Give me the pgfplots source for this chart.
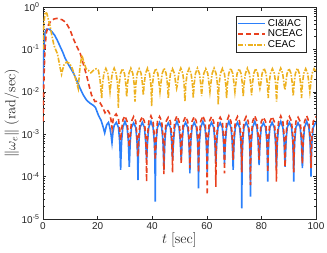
\documentclass[border=0pt]{standalone}
\usepackage[no-math]{fontspec}
\setmainfont{Liberation Sans}
\usepackage{pgfplots}
\pgfplotsset{compat=1.18}
\definecolor{axgray}{rgb}{0.15,0.15,0.15}
\definecolor{cblue}{HTML}{2B7FFA}
\definecolor{cred}{HTML}{E8401E}
\definecolor{cyel}{HTML}{EDB120}
\begin{document}
\begin{tikzpicture}
\path[use as bounding box] (-43bp,-34bp) rectangle (284bp,219bp);
\begin{axis}[
  at={(0,0)}, anchor=south west,
  scale only axis, width=273bp, height=212bp,
  xmin=0, xmax=100, ymin=1e-5, ymax=1, ymode=log,
  axis line style={draw=axgray, line width=0.5pt},
  major tick length=3.5bp, minor tick length=2bp,
  tick style={axgray, line width=0.5pt},
  tick align=inside,
  xtick={0,20,40,60,80,100},
  ytick={1e-5,1e-4,1e-3,1e-2,1e-1,1},
  yticklabels={10\textsuperscript{-5},10\textsuperscript{-4},10\textsuperscript{-3},10\textsuperscript{-2},10\textsuperscript{-1},10\textsuperscript{0}},
  minor ytick={2e-5,3e-5,4e-5,5e-5,6e-5,7e-5,8e-5,9e-5,
               2e-4,3e-4,4e-4,5e-4,6e-4,7e-4,8e-4,9e-4,
               2e-3,3e-3,4e-3,5e-3,6e-3,7e-3,8e-3,9e-3,
               2e-2,3e-2,4e-2,5e-2,6e-2,7e-2,8e-2,9e-2,
               2e-1,3e-1,4e-1,5e-1,6e-1,7e-1,8e-1,9e-1},
  /pgf/number format/assume math mode=true,
  ticklabel style={font=\fontsize{10}{12}\selectfont, text=axgray},
  xlabel={$t\ \mathrm{[sec]}$},
  ylabel={$\|\omega_e\|\ \mathrm{(rad/sec)}$},
  label style={font=\fontsize{14}{16}\selectfont, text=axgray},
  xlabel style={yshift=4bp},
  ylabel style={yshift=-4bp},
  legend style={at={(0.963,0.958)}, anchor=north east, draw=axgray,
     fill=white, font=\fontsize{10}{12}\selectfont, inner xsep=1bp, inner ysep=1bp,
     row sep=-1.5bp},
  legend cell align=left,
  legend image code/.code={\draw[#1] (0bp,0bp) -- (27bp,0bp); \draw[#1] (0bp,0bp) -- (27bp,0bp);},
  clip=true,
]
\addlegendimage{draw=cblue, line width=1.6pt, solid}
\addlegendentry{CI\&IAC}
\addlegendimage{draw=cred, line width=1.6pt, dash pattern=on 5bp off 3bp}
\addlegendentry{NCEAC}
\addlegendimage{draw=cyel, line width=1.6pt, dash pattern=on 5bp off 1.5bp on 1.5bp off 1.5bp}
\addlegendentry{CEAC}
\addplot[forget plot, color=cblue, line width=1.6pt] coordinates {
(0,0.0126) (0.3,0.1) (0.7,0.25) (1.3,0.30) (2.3,0.30) (3.3,0.26) (4.3,0.214) (5.2,0.166)
(6.2,0.12) (7.2,0.087) (8.1,0.062) (9.5,0.042) (11.1,0.028) (12.3,0.019) (13.6,0.012)
(14.8,0.0083) (16.0,0.0063) (17.2,0.0054) (18.4,0.0048) (19.2,0.0043) (20.3,0.0028)
(21.3,0.0021) (22.0,0.0015) (22.6,0.00107) (23.3,0.00166) (24.0,0.0019) (24.5,0.00141)
(24.9,0.0010) (25.27,0.00063) (25.62,0.0011) (26.07,0.0016) (26.85,0.0019)
(27.64,1.45e-3) (28.09,6.8e-4) (28.32,2.7e-4) (28.44,1.45e-4) (28.56,2.7e-4) (28.79,6.8e-4) (29.24,1.45e-3) (30.03,2.0e-3)
(30.81,1.45e-3) (31.26,6.8e-4) (31.49,2.7e-4) (31.61,1.7e-4) (31.73,2.7e-4) (31.96,6.8e-4) (32.41,1.45e-3) (33.20,1.85e-3)
(33.98,1.45e-3) (34.43,6.8e-4) (34.66,2.7e-4) (34.78,8.3e-5) (34.90,2.7e-4) (35.13,6.8e-4) (35.58,1.45e-3) (36.37,1.9e-3)
(37.15,1.45e-3) (37.60,6.8e-4) (37.95,2.5e-4) (38.30,6.8e-4) (38.75,1.45e-3) (39.54,2.0e-3)
(40.32,1.45e-3) (40.77,6.8e-4) (41.00,2.7e-4) (41.12,2.57e-5) (41.24,2.7e-4) (41.47,6.8e-4) (41.92,1.45e-3) (42.71,1.9e-3)
(43.49,1.45e-3) (43.94,6.8e-4) (44.17,2.7e-4) (44.29,1.45e-4) (44.41,2.7e-4) (44.64,6.8e-4) (45.09,1.45e-3) (45.88,1.85e-3)
(46.66,1.45e-3) (47.11,6.8e-4) (47.46,2.5e-4) (47.81,6.8e-4) (48.26,1.45e-3) (49.05,2.0e-3)
(49.83,1.45e-3) (50.28,6.8e-4) (50.63,2.45e-4) (50.98,6.8e-4) (51.43,1.45e-3) (52.22,1.9e-3)
(53.00,1.45e-3) (53.45,6.8e-4) (53.68,2.7e-4) (53.80,1.2e-4) (53.92,2.7e-4) (54.15,6.8e-4) (54.60,1.45e-3) (55.39,1.9e-3)
(56.17,1.45e-3) (56.62,6.8e-4) (56.85,2.7e-4) (56.97,5.25e-5) (57.09,2.7e-4) (57.32,6.8e-4) (57.77,1.45e-3) (58.56,2.0e-3)
(59.34,1.45e-3) (59.79,6.8e-4) (60.02,2.7e-4) (60.14,1.26e-4) (60.26,2.7e-4) (60.49,6.8e-4) (60.94,1.45e-3) (61.73,1.9e-3)
(62.51,1.45e-3) (62.96,6.8e-4) (63.19,3.2e-4) (63.31,2.0e-4) (63.43,3.2e-4) (63.66,6.8e-4) (64.11,1.45e-3) (64.90,1.85e-3)
(65.68,1.45e-3) (66.13,6.8e-4) (66.36,3.2e-4) (66.48,2.0e-4) (66.60,3.2e-4) (66.83,6.8e-4) (67.28,1.45e-3) (68.07,2.0e-3)
(68.85,1.45e-3) (69.30,6.8e-4) (69.53,2.7e-4) (69.65,1.45e-4) (69.77,2.7e-4) (70.00,6.8e-4) (70.45,1.45e-3) (71.24,1.9e-3)
(72.02,1.45e-3) (72.47,6.8e-4) (72.70,2.7e-4) (72.82,1.78e-5) (72.94,2.7e-4) (73.17,6.8e-4) (73.62,1.45e-3) (74.41,1.9e-3)
(75.19,1.45e-3) (75.64,6.8e-4) (75.87,2.7e-4) (75.99,3.39e-5) (76.11,2.7e-4) (76.34,6.8e-4) (76.79,1.45e-3) (77.58,2.0e-3)
(78.36,1.45e-3) (78.81,6.8e-4) (79.04,3.0e-4) (79.16,1.86e-4) (79.28,3.0e-4) (79.51,6.8e-4) (79.96,1.45e-3) (80.75,1.85e-3)
(81.53,1.45e-3) (81.98,6.8e-4) (82.21,2.7e-4) (82.33,7.6e-5) (82.45,2.7e-4) (82.68,6.8e-4) (83.13,1.45e-3) (83.92,1.9e-3)
(84.70,1.45e-3) (85.15,6.8e-4) (85.38,2.7e-4) (85.50,1.58e-4) (85.62,2.7e-4) (85.85,6.8e-4) (86.30,1.45e-3) (87.09,2.0e-3)
(87.87,1.45e-3) (88.32,6.8e-4) (88.55,2.7e-4) (88.67,1.7e-4) (88.79,2.7e-4) (89.02,6.8e-4) (89.47,1.45e-3) (90.26,1.9e-3)
(91.04,1.45e-3) (91.49,6.8e-4) (91.72,2.7e-4) (91.84,7.6e-5) (91.96,2.7e-4) (92.19,6.8e-4) (92.64,1.45e-3) (93.43,1.85e-3)
(94.21,1.45e-3) (94.66,6.8e-4) (94.89,2.7e-4) (95.01,1.58e-4) (95.13,2.7e-4) (95.36,6.8e-4) (95.81,1.45e-3) (96.60,2.0e-3)
(97.38,1.45e-3) (97.83,6.8e-4) (98.06,2.7e-4) (98.18,1.0e-4) (98.30,2.7e-4) (98.53,6.8e-4) (98.98,1.45e-3) (100,1.95e-3)
};
\addplot[forget plot, color=cred, line width=1.6pt, dash pattern=on 5bp off 3bp] coordinates {
(0,2.0e-3) (0.3,0.0158) (0.7,0.1) (1.2,0.24) (2.0,0.38) (3.0,0.48) (4.0,0.52) (5.0,0.54)
(6.0,0.52) (7.0,0.50) (8.0,0.45) (9.0,0.37) (9.9,0.29) (11.1,0.18) (12.3,0.12) (13.6,0.081)
(14.2,0.062) (15.0,0.040) (16.0,0.024) (17.0,0.013) (17.8,8.3e-3) (18.4,7.1e-3) (19.0,5.9e-3)
(20.0,6.0e-3) (20.9,5.5e-3) (21.8,4.4e-3) (22.7,3.2e-3) (23.5,3.8e-3) (24.3,3.2e-3)
(24.9,2.2e-3) (25.3,1.38e-3) (25.8,2.5e-3) (26.8,3.0e-3) (27.6,2.4e-3) (28.1,1.26e-3)
(28.44,7.2e-4) (28.8,1.26e-3) (29.3,2.2e-3) (30.0,2.7e-3)
(30.81,2.0e-3) (31.26,9.3e-4) (31.61,5.0e-4) (31.96,9.3e-4) (32.41,2.0e-3) (33.20,2.6e-3)
(33.98,2.0e-3) (34.43,9.3e-4) (34.66,4.0e-4) (34.78,2.95e-4) (34.90,4.0e-4) (35.13,9.3e-4) (35.58,2.0e-3) (36.37,2.6e-3)
(37.15,2.0e-3) (37.60,9.3e-4) (37.83,3.7e-4) (37.95,7.6e-5) (38.07,3.7e-4) (38.30,9.3e-4) (38.75,2.0e-3) (39.54,2.7e-3)
(40.32,2.0e-3) (40.77,9.3e-4) (41.00,4.0e-4) (41.12,2.5e-4) (41.24,4.0e-4) (41.47,9.3e-4) (41.92,2.0e-3) (42.71,2.6e-3)
(43.49,2.0e-3) (43.94,9.3e-4) (44.17,3.7e-4) (44.29,1.15e-4) (44.41,3.7e-4) (44.64,9.3e-4) (45.09,2.0e-3) (45.88,2.5e-3)
(46.66,2.0e-3) (47.11,9.3e-4) (47.34,3.7e-4) (47.46,1.26e-4) (47.58,3.7e-4) (47.81,9.3e-4) (48.26,2.0e-3) (49.05,2.7e-3)
(49.83,2.0e-3) (50.28,9.3e-4) (50.51,3.7e-4) (50.63,2.0e-4) (50.75,3.7e-4) (50.98,9.3e-4) (51.43,2.0e-3) (52.22,2.6e-3)
(53.00,2.0e-3) (53.45,9.3e-4) (53.68,3.7e-4) (53.80,1.58e-4) (53.92,3.7e-4) (54.15,9.3e-4) (54.60,2.0e-3) (55.39,2.6e-3)
(56.17,2.0e-3) (56.62,9.3e-4) (56.85,3.7e-4) (56.97,1.26e-4) (57.09,3.7e-4) (57.32,9.3e-4) (57.77,2.0e-3) (58.56,2.7e-3)
(59.34,2.0e-3) (59.79,9.3e-4) (60.02,3.7e-4) (60.14,3.7e-5) (60.26,3.7e-4) (60.49,9.3e-4) (60.94,2.0e-3) (61.73,2.6e-3)
(62.51,2.0e-3) (62.96,9.3e-4) (63.19,3.7e-4) (63.31,5.75e-5) (63.43,3.7e-4) (63.66,9.3e-4) (64.11,2.0e-3) (64.90,2.5e-3)
(65.68,2.0e-3) (66.13,9.3e-4) (66.36,3.7e-4) (66.48,1.2e-4) (66.60,3.7e-4) (66.83,9.3e-4) (67.28,2.0e-3) (68.07,2.7e-3)
(68.85,2.0e-3) (69.30,9.3e-4) (69.53,4.0e-4) (69.65,2.5e-4) (69.77,4.0e-4) (70.00,9.3e-4) (70.45,2.0e-3) (71.24,2.6e-3)
(72.02,2.0e-3) (72.47,9.3e-4) (72.70,3.7e-4) (72.82,1.26e-4) (72.94,3.7e-4) (73.17,9.3e-4) (73.62,2.0e-3) (74.41,2.6e-3)
(75.19,2.0e-3) (75.64,9.3e-4) (75.87,3.7e-4) (75.99,6.3e-5) (76.11,3.7e-4) (76.34,9.3e-4) (76.79,2.0e-3) (77.58,2.7e-3)
(78.36,2.0e-3) (78.81,9.3e-4) (79.04,4.0e-4) (79.16,2.5e-4) (79.28,4.0e-4) (79.51,9.3e-4) (79.96,2.0e-3) (80.75,2.5e-3)
(81.53,2.0e-3) (81.98,9.3e-4) (82.21,3.7e-4) (82.33,1.26e-4) (82.45,3.7e-4) (82.68,9.3e-4) (83.13,2.0e-3) (83.92,2.6e-3)
(84.70,2.0e-3) (85.15,9.3e-4) (85.38,3.7e-4) (85.50,7.6e-5) (85.62,3.7e-4) (85.85,9.3e-4) (86.30,2.0e-3) (87.09,2.7e-3)
(87.87,2.0e-3) (88.32,9.3e-4) (88.55,3.7e-4) (88.67,1.7e-4) (88.79,3.7e-4) (89.02,9.3e-4) (89.47,2.0e-3) (90.26,2.6e-3)
(91.04,2.0e-3) (91.49,9.3e-4) (91.72,3.7e-4) (91.84,1.26e-4) (91.96,3.7e-4) (92.19,9.3e-4) (92.64,2.0e-3) (93.43,2.5e-3)
(94.21,2.0e-3) (94.66,9.3e-4) (94.89,3.7e-4) (95.01,2.0e-4) (95.13,3.7e-4) (95.36,9.3e-4) (95.81,2.0e-3) (96.60,2.7e-3)
(97.38,2.0e-3) (97.83,9.3e-4) (98.06,3.7e-4) (98.18,1.58e-4) (98.30,3.7e-4) (98.53,9.3e-4) (98.98,2.0e-3) (100,2.6e-3)
};
\addplot[forget plot, color=cyel, line width=1.6pt, dash pattern=on 5bp off 1.5bp on 1.5bp off 1.5bp] coordinates {
(0,0.1) (0.3,0.4) (0.8,0.76) (1.4,0.71) (2.0,0.5) (2.6,0.355) (3.2,0.22) (4.0,0.126) (4.6,0.1)
(5.3,0.079) (6.2,0.039) (6.8,0.026) (7.6,0.042) (8.7,0.051) (9.6,0.047) (10.5,0.039) (11.7,0.023)
(12.9,0.012) (13.5,0.035) (14.2,0.074) (15.0,0.05) (15.8,0.035) (16.6,0.032) (17.5,0.028)
(18.5,0.032) (19.5,0.035) (20.3,0.032) (20.9,0.019)
(21.5,7.1e-3) (21.8,1.5e-2) (22.3,2.7e-2) (23.025,3.55e-2) (23.75,2.7e-2) (24.25,1.5e-2)
(24.55,1.0e-2) (24.85,1.5e-2) (25.35,2.7e-2) (26.075,3.6e-2) (26.8,2.7e-2) (27.3,1.5e-2)
(27.5,8e-3) (27.6,4.2e-3) (27.7,8e-3) (27.9,1.5e-2) (28.4,2.7e-2) (29.125,3.5e-2) (29.85,2.7e-2)
(30.35,1.5e-2) (30.65,7.6e-3) (30.95,1.5e-2) (31.45,2.7e-2) (32.175,3.6e-2) (32.9,2.7e-2)
(33.4,1.5e-2) (33.6,8e-3) (33.7,5.9e-3) (33.8,8e-3) (34.0,1.5e-2) (34.5,2.7e-2) (35.225,3.5e-2)
(35.95,2.7e-2) (36.45,1.5e-2) (36.75,8.3e-3) (37.05,1.5e-2) (37.55,2.7e-2) (38.275,3.6e-2)
(39.0,2.7e-2) (39.5,1.5e-2) (39.7,8e-3) (39.8,4.5e-3) (39.9,8e-3) (40.1,1.5e-2) (40.6,2.7e-2)
(41.325,3.55e-2) (42.05,2.7e-2) (42.55,1.5e-2) (42.85,1.0e-2) (43.15,1.5e-2) (43.65,2.7e-2)
(44.375,3.6e-2) (45.1,2.7e-2) (45.6,1.5e-2) (45.9,7.1e-3) (46.2,1.5e-2) (46.7,2.7e-2)
(47.425,3.5e-2) (48.15,2.7e-2) (48.65,1.5e-2) (48.95,1.2e-2) (49.25,1.5e-2) (49.75,2.7e-2)
(50.475,3.6e-2) (51.2,2.7e-2) (51.7,1.5e-2) (51.9,8e-3) (52.0,5.9e-3) (52.1,8e-3) (52.3,1.5e-2)
(52.8,2.7e-2) (53.525,3.55e-2) (54.25,2.7e-2) (54.75,1.5e-2) (55.05,7.1e-3) (55.35,1.5e-2)
(55.85,2.7e-2) (56.575,3.6e-2) (57.3,2.7e-2) (57.8,1.5e-2) (58.1,7.9e-3) (58.4,1.5e-2)
(58.9,2.7e-2) (59.625,3.5e-2) (60.35,2.7e-2) (60.85,1.5e-2) (61.15,1.0e-2) (61.45,1.5e-2)
(61.95,2.7e-2) (62.675,3.6e-2) (63.4,2.7e-2) (63.9,1.5e-2) (64.1,8e-3) (64.2,4.9e-3) (64.3,8e-3)
(64.5,1.5e-2) (65.0,2.7e-2) (65.725,3.55e-2) (66.45,2.7e-2) (66.95,1.5e-2) (67.25,7.1e-3)
(67.55,1.5e-2) (68.05,2.7e-2) (68.775,3.6e-2) (69.5,2.7e-2) (70.0,1.5e-2) (70.3,1.0e-2)
(70.6,1.5e-2) (71.1,2.7e-2) (71.825,3.5e-2) (72.55,2.7e-2) (73.05,1.5e-2) (73.35,7.9e-3)
(73.65,1.5e-2) (74.15,2.7e-2) (74.875,3.6e-2) (75.6,2.7e-2) (76.1,1.5e-2) (76.4,8.3e-3)
(76.7,1.5e-2) (77.2,2.7e-2) (77.925,3.55e-2) (78.65,2.7e-2) (79.15,1.5e-2) (79.45,1.2e-2)
(79.75,1.5e-2) (80.25,2.7e-2) (80.975,3.6e-2) (81.7,2.7e-2) (82.2,1.5e-2) (82.5,7.1e-3)
(82.8,1.5e-2) (83.3,2.7e-2) (84.025,3.5e-2) (84.75,2.7e-2) (85.25,1.5e-2) (85.45,8e-3)
(85.55,5.9e-3) (85.65,8e-3) (85.85,1.5e-2) (86.35,2.7e-2) (87.075,3.6e-2) (87.8,2.7e-2)
(88.3,1.5e-2) (88.6,1.12e-2) (88.9,1.5e-2) (89.4,2.7e-2) (90.125,3.55e-2) (90.85,2.7e-2)
(91.35,1.5e-2) (91.65,7.9e-3) (91.95,1.5e-2) (92.45,2.7e-2) (93.175,3.6e-2) (93.9,2.7e-2)
(94.4,1.5e-2) (94.7,7.1e-3) (95.0,1.5e-2) (95.5,2.7e-2) (96.225,3.5e-2) (96.95,2.7e-2)
(97.45,1.5e-2) (97.75,1.0e-2) (98.05,1.5e-2) (98.55,2.7e-2) (99.3,3.5e-2) (100,3.0e-2)
};
\end{axis}
\end{tikzpicture}
\end{document}
